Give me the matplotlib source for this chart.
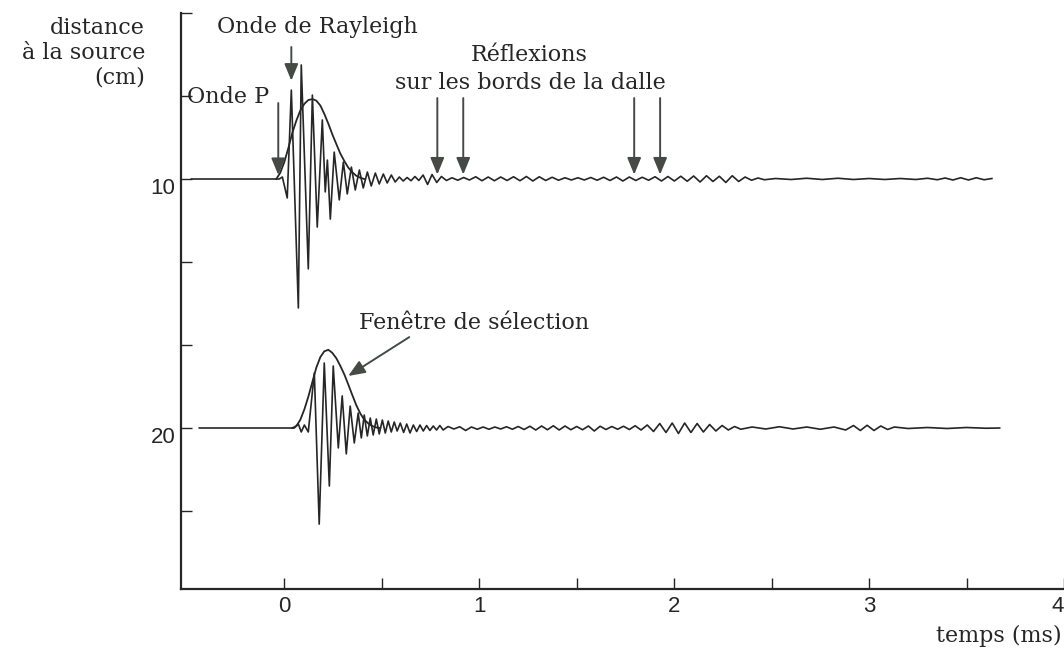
import numpy as np
import matplotlib.pyplot as plt
from matplotlib import transforms

# Distances of the two receivers (cm)
distances = [10, 20]

# Trace recorded at 10 cm: successive extrema, time (ms) and amplitude (cm, upward positive)
t_10 = [-0.477, -0.026, -0.010, 0.015, 0.036, 0.072, 0.087, 0.123, 0.144, 0.169,
        0.195, 0.210, 0.221, 0.236, 0.256, 0.282, 0.303, 0.323, 0.344, 0.364,
        0.385, 0.405, 0.426, 0.446, 0.467, 0.487, 0.508, 0.528, 0.549, 0.569,
        0.590, 0.610, 0.630, 0.650, 0.670, 0.690, 0.712, 0.735, 0.758, 0.782,
        0.806, 0.832, 0.860, 0.890, 0.920, 0.950, 0.982, 1.014, 1.046, 1.078,
        1.110, 1.143, 1.176, 1.209, 1.242, 1.275, 1.308, 1.341, 1.374, 1.407,
        1.440, 1.473, 1.506, 1.539, 1.572, 1.605, 1.638, 1.671, 1.704, 1.737,
        1.770, 1.803, 1.836, 1.869, 1.902, 1.935, 1.968, 2.001, 2.034, 2.067,
        2.100, 2.133, 2.166, 2.199, 2.232, 2.265, 2.298, 2.331, 2.364, 2.397,
        2.430, 2.463, 2.520, 2.600, 2.680, 2.760, 2.840, 2.920, 3.000, 3.080,
        3.160, 3.240, 3.300, 3.350, 3.390, 3.430, 3.470, 3.510, 3.550, 3.590,
        3.630]
a_10 = [0.00, 0.00, 0.08, -0.76, 3.57, -5.18, 4.58, -3.61, 3.37, -1.93,
        2.37, -0.52, 0.76, -1.61, 1.08, -0.84, 0.68, -0.60, 0.48, -0.44,
        0.36, -0.36, 0.28, -0.28, 0.24, -0.20, 0.20, -0.16, 0.16, -0.12,
        0.08, -0.08, 0.06, -0.07, 0.10, -0.06, 0.16, -0.22, 0.18, -0.14,
        0.10, -0.06, 0.05, -0.05, 0.06, -0.04, 0.09, -0.07, 0.08, -0.07,
        0.08, -0.06, 0.09, -0.07, 0.10, -0.08, 0.09, -0.06, 0.07, -0.05,
        0.05, -0.04, 0.05, -0.04, 0.06, -0.05, 0.07, -0.06, 0.08, -0.08,
        0.08, -0.06, 0.07, -0.05, 0.09, -0.08, 0.10, -0.08, 0.11, -0.09,
        0.12, -0.12, 0.13, -0.10, 0.11, -0.14, 0.13, -0.10, 0.08, -0.05,
        0.04, -0.03, 0.02, -0.02, 0.03, -0.02, 0.03, -0.02, 0.02, -0.02,
        0.02, -0.02, 0.03, -0.03, 0.04, -0.04, 0.05, -0.04, 0.05, -0.03,
        0.02]

# Trace recorded at 20 cm
t_20 = [-0.436, 0.051, 0.072, 0.087, 0.103, 0.123, 0.154, 0.179, 0.205, 0.231,
        0.251, 0.277, 0.297, 0.318, 0.338, 0.359, 0.379, 0.395, 0.410, 0.426,
        0.441, 0.456, 0.472, 0.487, 0.503, 0.518, 0.533, 0.549, 0.564, 0.579,
        0.595, 0.612, 0.628, 0.645, 0.662, 0.679, 0.696, 0.713, 0.730, 0.747,
        0.764, 0.781, 0.798, 0.815, 0.840, 0.870, 0.900, 0.930, 0.960, 0.990,
        1.020, 1.050, 1.080, 1.110, 1.140, 1.170, 1.200, 1.230, 1.260, 1.290,
        1.320, 1.350, 1.380, 1.410, 1.440, 1.470, 1.500, 1.530, 1.560, 1.590,
        1.620, 1.650, 1.680, 1.710, 1.740, 1.770, 1.800, 1.830, 1.862, 1.894,
        1.926, 1.958, 1.990, 2.022, 2.054, 2.086, 2.118, 2.150, 2.182, 2.214,
        2.246, 2.278, 2.310, 2.342, 2.400, 2.470, 2.540, 2.610, 2.680, 2.750,
        2.820, 2.880, 2.920, 2.955, 2.990, 3.025, 3.060, 3.095, 3.130, 3.200,
        3.300, 3.400, 3.500, 3.600, 3.670]
a_20 = [0.00, 0.00, 0.16, -0.16, 0.12, -0.16, 2.21, -3.86, 2.61, -2.33,
        2.49, -0.80, 1.29, -1.04, 0.88, -0.60, 0.60, -0.40, 0.52, -0.32,
        0.40, -0.28, 0.36, -0.24, 0.32, -0.20, 0.28, -0.16, 0.24, -0.12,
        0.20, -0.18, 0.16, -0.20, 0.12, -0.14, 0.12, -0.12, 0.10, -0.10,
        0.08, -0.08, 0.10, -0.08, 0.06, -0.04, 0.05, -0.10, 0.04, -0.05,
        0.04, -0.05, 0.04, -0.04, 0.05, -0.05, 0.06, -0.06, 0.07, -0.08,
        0.08, -0.07, 0.09, -0.08, 0.08, -0.07, 0.06, -0.07, 0.08, -0.12,
        0.07, -0.06, 0.06, -0.05, 0.07, -0.06, 0.09, -0.08, 0.12, -0.14,
        0.18, -0.18, 0.20, -0.22, 0.20, -0.18, 0.18, -0.16, 0.14, -0.12,
        0.10, -0.08, 0.06, -0.05, 0.04, -0.04, 0.05, -0.04, 0.04, -0.05,
        0.04, -0.08, 0.10, -0.10, 0.11, -0.10, 0.08, -0.06, 0.04, -0.02,
        0.02, -0.02, 0.02, -0.01, 0.00]

# Selection windows (time in ms, height in cm)
win_t_10 = [-0.041, -0.021, 0.000, 0.021, 0.041, 0.062, 0.082, 0.103, 0.123, 0.144,
            0.164, 0.185, 0.205, 0.226, 0.246, 0.267, 0.287, 0.308, 0.328, 0.349,
            0.369, 0.390, 0.410]
win_a_10 = [0.00, 0.25, 0.68, 1.25, 1.85, 2.35, 2.75, 3.02, 3.17, 3.21,
            3.15, 2.95, 2.62, 2.22, 1.80, 1.40, 1.03, 0.72, 0.46, 0.27,
            0.13, 0.05, 0.00]
win_t_20 = [0.041, 0.062, 0.082, 0.103, 0.123, 0.144, 0.164, 0.185, 0.205, 0.226,
            0.246, 0.267, 0.287, 0.308, 0.328, 0.349, 0.369, 0.390, 0.410, 0.431,
            0.451, 0.472, 0.492]
win_a_20 = [0.00, 0.08, 0.33, 0.75, 1.25, 1.85, 2.42, 2.85, 3.08, 3.14,
            3.02, 2.80, 2.50, 2.15, 1.75, 1.32, 0.92, 0.58, 0.34, 0.18,
            0.08, 0.02, 0.00]

x_major = [0, 1, 2, 3, 4]
x_minor = [0.5, 1.5, 2.5, 3.5]
y_major = [10, 20]
y_minor = [10 / 3, 20 / 3, 40 / 3, 50 / 3, 70 / 3]

# Arrival times pointed at by the arrows (ms)
t_p_wave = -0.031
t_rayleigh = 0.036
t_reflections = [0.785, 0.918, 1.795, 1.928]

INK = "#262626"
ARROW = "#454a46"
SERIF = ["DejaVu Serif"]
SANS = ["Liberation Sans", "DejaVu Sans"]

fig = plt.figure(figsize=(10.64, 6.53), dpi=100)
W, H = 1064, 653
ax = fig.add_axes([181 / W, 1 - 589 / H, (W - 181) / W, 576 / H])
ax.set_xlim(-0.53, 4.0)
ax.set_ylim(10 + 410 / 24.9, 10 / 3)

for side in ("top", "right"):
    ax.spines[side].set_visible(False)
for side in ("left", "bottom"):
    ax.spines[side].set_linewidth(1.6)
    ax.spines[side].set_color(INK)

ax.set_xticks(x_major)
ax.set_xticks(x_minor, minor=True)
ax.set_yticks(y_major)
ax.set_yticks(y_minor, minor=True)
ax.tick_params(which="both", direction="in", length=8, width=1.0, color=INK)
ax.tick_params(axis="x", pad=5)
ax.tick_params(axis="y", pad=4)
for lab in ax.get_xticklabels() + ax.get_yticklabels():
    lab.set_fontfamily(SANS)
    lab.set_fontsize(16)
    lab.set_color(INK)
# distance labels sit slightly below their ticks
shift = transforms.ScaledTranslation(0, -7 / 100, fig.dpi_scale_trans)
for lab in ax.get_yticklabels():
    lab.set_transform(lab.get_transform() + shift)
# last time label hugs the right edge
ax.get_xticklabels()[-1].set_horizontalalignment("right")

# Seismic traces and selection windows
for d, t, a in ((distances[0], t_10, a_10), (distances[1], t_20, a_20)):
    ax.plot(t, d - np.asarray(a), color=INK, lw=1.2, solid_joinstyle="round")
for d, t, a in ((distances[0], win_t_10, win_a_10), (distances[1], win_t_20, win_a_20)):
    ax.plot(t, d - np.asarray(a), color=INK, lw=1.3)

arrow_props = dict(arrowstyle="-|>,head_length=0.46,head_width=0.19", color=ARROW,
                   lw=1.4, mutation_scale=22, shrinkA=0, shrinkB=0)
text_kw = dict(fontfamily=SERIF, fontsize=16, color=INK)

# Arrival annotations
ax.text(-0.077, 6.71, "Onde P", ha="right", va="center", **text_kw)
ax.annotate("", xy=(t_p_wave, 9.84), xytext=(t_p_wave, 6.95), arrowprops=arrow_props)

ax.text(0.169, 3.90, "Onde de Rayleigh", ha="center", va="center", **text_kw)
ax.annotate("", xy=(t_rayleigh, 6.05), xytext=(t_rayleigh, 4.70), arrowprops=arrow_props)

ax.text(1.256, 5.02, "Réflexions", ha="center", va="center", **text_kw)
ax.text(1.262, 6.14, "sur les bords de la dalle", ha="center", va="center", **text_kw)
for tr in t_reflections:
    ax.annotate("", xy=(tr, 9.82), xytext=(tr, 6.75), arrowprops=arrow_props)

ax.text(0.974, 15.78, "Fenêtre de sélection", ha="center", va="center", **text_kw)
ax.annotate("", xy=(0.328, 17.91), xytext=(0.641, 16.35), arrowprops=arrow_props)

# Axis titles
ax.set_ylabel("distance\nà la source\n(cm)", rotation=0, ha="right", va="center",
              multialignment="right", linespacing=1.15, **text_kw)
ax.yaxis.set_label_coords(-0.0408, (589 - 53) / 576)
ax.set_xlabel("temps (ms)", ha="right", va="center", **text_kw)
ax.xaxis.set_label_coords(0.9977, (589 - 636) / 576)

fig.savefig("out.png", dpi=100)
